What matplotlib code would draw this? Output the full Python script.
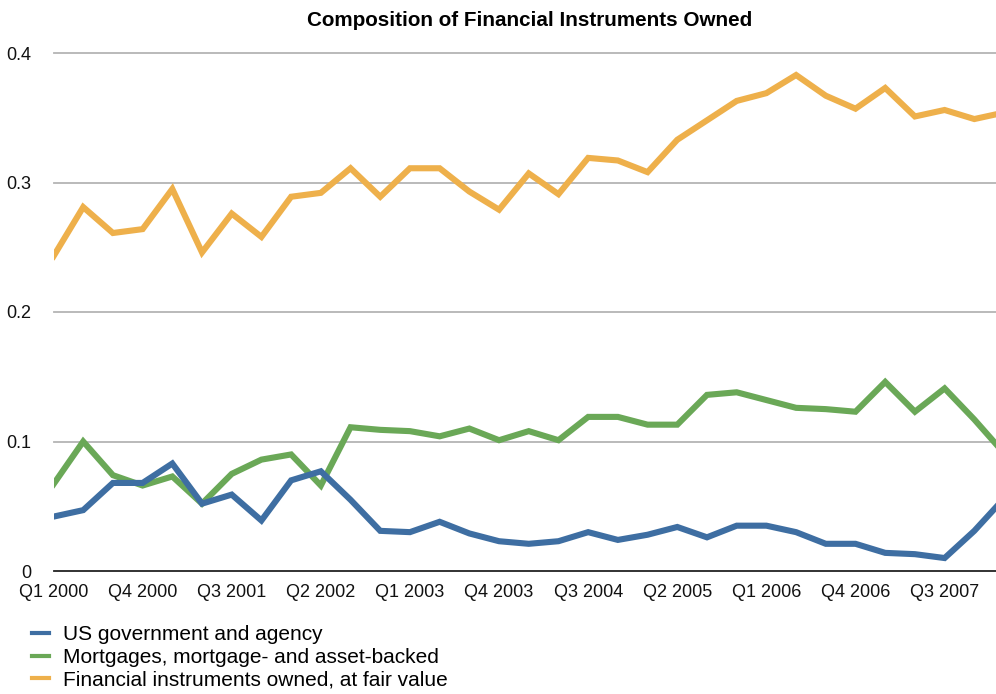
import matplotlib
matplotlib.use("Agg")
import matplotlib.pyplot as plt

plt.rcParams["font.family"] = ["Liberation Sans", "DejaVu Sans"]

# Quarterly data, Q1 2000 .. Q1 2008 (last point only partly visible)
quarters = [f"Q{q} {y}" for y in range(2000, 2009) for q in range(1, 5)][:33]

us_gov = [0.042, 0.047, 0.068, 0.068, 0.083, 0.052, 0.059, 0.039, 0.070, 0.077,
          0.055, 0.031, 0.030, 0.038, 0.029, 0.023, 0.021, 0.023, 0.030, 0.024,
          0.028, 0.034, 0.026, 0.035, 0.035, 0.030, 0.021, 0.021, 0.014, 0.013,
          0.010, 0.031, 0.056]
mortgages = [0.067, 0.100, 0.074, 0.066, 0.073, 0.052, 0.075, 0.086, 0.090, 0.066,
             0.111, 0.109, 0.108, 0.104, 0.110, 0.101, 0.108, 0.101, 0.119, 0.119,
             0.113, 0.113, 0.136, 0.138, 0.132, 0.126, 0.125, 0.123, 0.146, 0.123,
             0.141, 0.117, 0.091]
fin_owned = [0.243, 0.281, 0.261, 0.264, 0.295, 0.246, 0.276, 0.258, 0.289, 0.292,
             0.311, 0.289, 0.311, 0.311, 0.293, 0.279, 0.307, 0.291, 0.319, 0.317,
             0.308, 0.333, 0.348, 0.363, 0.369, 0.383, 0.367, 0.357, 0.373, 0.351,
             0.356, 0.349, 0.354]

series_labels = [
    "US government and agency",
    "Mortgages, mortgage- and asset-backed",
    "Financial instruments owned, at fair value",
]
y_ticks = [0, 0.1, 0.2, 0.3, 0.4]
y_tick_labels = ["0", "0.1", "0.2", "0.3", "0.4"]

_BLUE = "#3e6ea2"
_GREEN = "#6aa857"
_ORANGE = "#eeb04b"
_GRID = "#b4b4b4"

fig = plt.figure(figsize=(9.96, 6.94), dpi=100)
ax = fig.add_axes([53.5 / 996, 123 / 694, 1 - 53.5 / 996, 518 / 694])

x = list(range(len(quarters)))
lw = 4.4
l3, = ax.plot(x, fin_owned, color=_ORANGE, lw=lw, solid_joinstyle="miter", zorder=3)
l2, = ax.plot(x, mortgages, color=_GREEN, lw=lw, solid_joinstyle="miter", zorder=3)
l1, = ax.plot(x, us_gov, color=_BLUE, lw=lw, solid_joinstyle="miter", zorder=4)

ax.set_xlim(0, 31.73)
ax.set_ylim(0, 0.4)
ax.set_yticks(y_ticks)
ax.set_yticklabels(y_tick_labels)
ax.set_xticks(x[::3])
ax.set_xticklabels(quarters[::3])
ax.tick_params(axis="both", length=0, labelsize=13, colors="#111111")
ax.tick_params(axis="y", pad=16)
ax.tick_params(axis="x", pad=9.5)

for v in y_ticks[1:]:
    ax.axhline(v, color=_GRID, lw=1.3, zorder=1, clip_on=False)
for s in ["top", "right", "left"]:
    ax.spines[s].set_visible(False)
ax.spines["bottom"].set_color("#222222")
ax.spines["bottom"].set_linewidth(1.3)

fig.text(530 / 996, 1 - 20 / 694, "Composition of Financial Instruments Owned",
         ha="center", va="center", fontsize=14.9, fontweight="bold")

fig.legend([l1, l2, l3], series_labels, loc="upper left",
           bbox_to_anchor=(0.0236, 1 - 617 / 694), frameon=False,
           fontsize=15, handlelength=0.82, handletextpad=0.68,
           labelspacing=0.17, borderaxespad=0)
for h in fig.legends[0].get_lines():
    h.set_linewidth(3)

fig.savefig("out.png", dpi=100, facecolor="white")
